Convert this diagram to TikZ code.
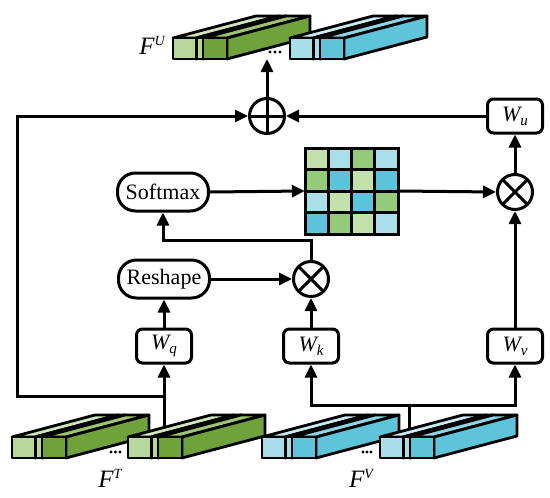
\documentclass[tikz,border=0pt]{standalone}
\usepackage{fontspec}
\setmainfont{Liberation Serif}
\usetikzlibrary{arrows.meta,calc}

\definecolor{glight}{HTML}{B7D79B}
\definecolor{gtop}{HTML}{CFE6BC}
\definecolor{gdark}{HTML}{6FA23B}
\definecolor{gdtop}{HTML}{9CC56F}
\definecolor{blight}{HTML}{A9DDEA}
\definecolor{btop}{HTML}{C8EAF2}
\definecolor{bdark}{HTML}{5EC4DA}
\definecolor{bdtop}{HTML}{8ED6E6}
\definecolor{mlg}{HTML}{C3E1AB}
\definecolor{mmg}{HTML}{93CB7B}
\definecolor{mlb}{HTML}{A9DEEA}
\definecolor{mmb}{HTML}{5DC3DA}

\newcommand\Wlab[1]{{\fontsize{22}{26}\selectfont\itshape W}\raisebox{-4pt}{\fontsize{15}{15}\selectfont\itshape #1}}
\newcommand\Flab[1]{{\fontsize{25}{28}\selectfont\itshape F}\raisebox{9pt}{\fontsize{14}{14}\selectfont\itshape #1}}

% one slab: x1, x2, y0 (front top), front/side colour, top colour
\newcommand\slabbox[5]{%
  \filldraw[blk,fill=#5] ({#1},{#3}) -- ({#2},{#3}) -- ++(83,-22) -- ({#1+83},{#3-22}) -- cycle;
  \filldraw[blk,fill=#4] ({#2},{#3}) -- ++(83,-22) -- ++(0,21) -- ({#2},{#3+21}) -- cycle;
  \filldraw[blk,fill=#4] ({#1},{#3}) rectangle ({#2},{#3+21});
}
% group of slabs: x0, y0, light, lighttop, dark, darktop
\newcommand\fgroup[6]{%
  \slabbox{#1}{#1+23}{#2}{#3}{#4}
  \slabbox{#1+24}{#1+30}{#2}{#3}{#4}
  \slabbox{#1+30}{#1+54}{#2}{#5}{#6}
}

\tikzset{
  blk/.style={line width=2.8pt, line join=round, draw=black},
  line/.style={line width=3pt},
  arr/.style={line width=3pt, -{Triangle[length=13pt,width=12pt]}},
  wbox/.style={draw, line width=3pt, rounded corners=6pt, minimum width=55pt, minimum height=34pt, inner sep=0pt},
  pill/.style={draw, line width=3pt, rounded corners=18pt, minimum width=91pt, minimum height=38pt, inner sep=0pt, font=\fontsize{22}{26}\selectfont},
  opcirc/.style={draw, circle, line width=3pt, minimum size=35pt, inner sep=0pt},
  oplusn/.style={opcirc, path picture={\draw[line width=3pt] (path picture bounding box.north) -- (path picture bounding box.south) (path picture bounding box.west) -- (path picture bounding box.east);}},
  otimesn/.style={opcirc, path picture={\draw[line width=3pt] (path picture bounding box.north west) -- (path picture bounding box.south east) (path picture bounding box.north east) -- (path picture bounding box.south west);}},
  lab/.style={inner sep=0pt},
}

\begin{document}
\begin{tikzpicture}[x=1pt,y=-1pt]
\useasboundingbox (0,0) rectangle (550,498);

% operators and boxes
\node[oplusn] (oplus) at (267,116) {};
\node[wbox] (wu) at (515,116) {\Wlab{u}};
\node[otimesn] (otr) at (515,192) {};
\node[pill] (softmax) at (163,192) {Softmax};
\node[pill] (reshape) at (164,279) {Reshape};
\node[otimesn] (otm) at (311,279) {};
\node[wbox] (wq) at (164,346) {\Wlab{q}};
\node[wbox] (wk) at (311,346) {\Wlab{k}};
\node[wbox] (wv) at (515,346) {\Wlab{v}};

% attention matrix
\node[minimum width=93pt, minimum height=86pt, inner sep=0pt] (mat) at (351.5,191) {};
\foreach \c [count=\k from 0] in {mlg,mlb,mmg,mlb, mmg,mmb,mlg,mmb, mlb,mlg,mmb,mmg, mmb,mmg,mlg,mlb}{
  \pgfmathtruncatemacro\col{mod(\k,4)}
  \pgfmathtruncatemacro\rw{floor(\k/4)}
  \filldraw[line width=3pt, fill=\c] ({305+\col*23.25},{148+\rw*21.5}) rectangle ++(23.25,21.5);
}

% named free ends
\coordinate (fu) at (267,59);
\coordinate (ftstem) at (164,432);
\coordinate (ftjoin) at (164,396);
\coordinate (lc1) at (17,396);
\coordinate (lc2) at (17,116);
\coordinate (bend) at (163,240);
\coordinate (fvstem) at (409,432);
\coordinate (fvjoin) at (409,405);
\coordinate (kjoin) at (311,405);
\coordinate (vjoin) at (515,405);

% connectors
\draw[arr] (oplus.north) -- (fu);
\draw[arr] (wu.west) -- (oplus.east);
\draw[arr] (otr.north) -- (wu.south);
\draw[arr] (wv.north) -- (otr.south);
\draw[arr] (mat.east) -- (otr.west);
\draw[arr] (softmax.east) -- (mat.west);
\draw[arr] (otm.north) |- (bend) -- (softmax.south);
\draw[arr] (reshape.east) -- (otm.west);
\draw[arr] (wq.north) -- (reshape.south);
\draw[arr] (wk.north) -- (otm.south);
\draw[arr] (ftstem) -- (wq.south);
\draw[arr] (ftjoin) -- (lc1) -- (lc2) -- (oplus.west);
\draw[line] (fvstem) -- (fvjoin);
\draw[arr] (fvjoin) -- (kjoin) -- (wk.south);
\draw[arr] (fvjoin) -- (vjoin) -- (wv.south);

% feature blocks
\fgroup{173}{38}{glight}{gtop}{gdark}{gdtop}
\fgroup{290}{38}{blight}{btop}{bdark}{bdtop}
\fgroup{12}{437}{glight}{gtop}{gdark}{gdtop}
\fgroup{128}{437}{glight}{gtop}{gdark}{gdtop}
\fgroup{262}{437}{blight}{btop}{bdark}{bdtop}
\fgroup{380}{437}{blight}{btop}{bdark}{bdtop}

% ellipsis dots
\foreach \x in {270,275,280} \fill (\x,52) circle (1.7pt);
\foreach \x in {111,115.5,120} \fill (\x,452) circle (1.7pt);
\foreach \x in {363,367,371} \fill (\x,452) circle (1.7pt);

% labels
\node[lab] (lfu) at (152,45) {\Flab{U}};
\node[lab] (lft) at (110,478) {\Flab{T}};
\node[lab] (lfv) at (361,478) {\Flab{V}};
\end{tikzpicture}
\end{document}
